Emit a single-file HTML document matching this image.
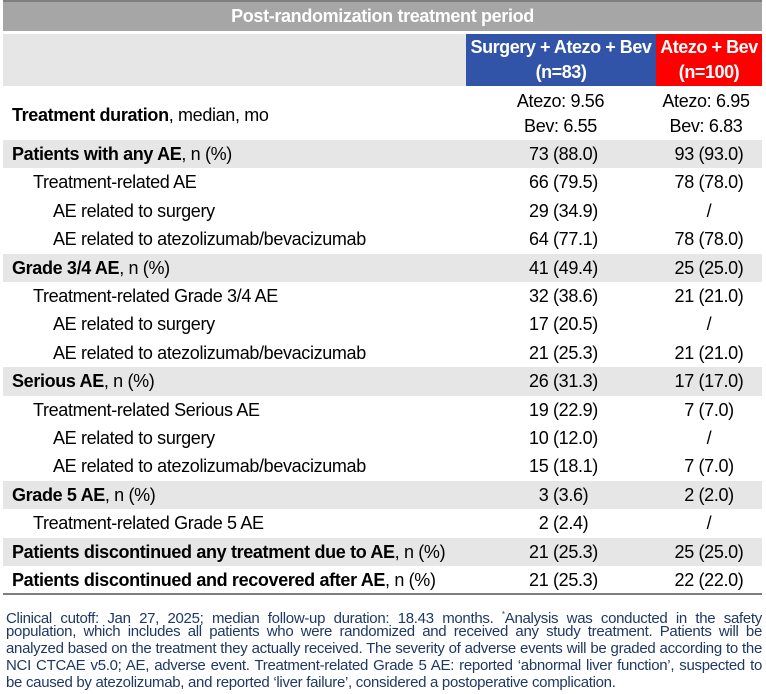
<!DOCTYPE html>
<html><head><meta charset="utf-8"><style>
*{margin:0;padding:0;box-sizing:border-box}
body{width:766px;height:694px;background:#fff;position:relative;overflow:hidden;font-family:"Liberation Sans",Arial,sans-serif;color:#000;font-size:18px;letter-spacing:-0.35px}
.a{position:absolute}
.row{position:absolute;left:3px;width:759px;height:28.4px}
.g{background:#e6e6e6}
.t{position:absolute;top:0;line-height:28.4px;white-space:nowrap}
.c1{position:absolute;left:463px;width:195px;text-align:center;top:0;line-height:28.4px}
.c2{position:absolute;left:653px;width:106px;text-align:center;top:0;line-height:28.4px}
b{font-weight:bold}
.fn{position:absolute;left:6px;width:756px;color:#1f3864;font-size:15px;line-height:17px;letter-spacing:-0.3px;white-space:nowrap;text-align:justify;text-align-last:justify}
</style></head><body>
<div class="a" style="left:3px;top:0;width:759px;height:2px;background:#7f7f7f"></div>
<div class="a" style="left:3px;top:2px;width:759px;height:29px;background:#a6a6a6;color:#fff;font-weight:bold;text-align:center;line-height:29px">Post-randomization treatment period</div>
<div class="a" style="left:3px;top:34px;width:463px;height:52px;background:#e6e6e6"></div>
<div class="a" style="left:466px;top:34px;width:190px;height:52px;background:#3153a8;color:#fff;font-weight:bold;text-align:center;line-height:25px;padding-top:1px;letter-spacing:-0.45px">Surgery + Atezo + Bev<br>(n=83)</div>
<div class="a" style="left:656px;top:34px;width:106px;height:52px;background:#ff0000;color:#fff;font-weight:bold;text-align:center;line-height:25px;padding-top:1px;letter-spacing:-0.45px">Atezo + Bev<br>(n=100)</div>

<div class="a" style="left:12px;top:101px;line-height:28px"><b>Treatment duration</b>, median, mo</div>
<div class="a" style="left:463px;width:195px;top:89px;text-align:center;line-height:25px">Atezo: 9.56<br>Bev: 6.55</div>
<div class="a" style="left:653px;width:106px;top:89px;text-align:center;line-height:25px">Atezo: 6.95<br>Bev: 6.83</div>

<div class="row g" style="top:140px"><div class="t" style="left:9px"><b>Patients with any AE</b>, n (%)</div><div class="c1">73 (88.0)</div><div class="c2">93 (93.0)</div></div>
<div class="row" style="top:168.4px"><div class="t" style="left:30px">Treatment-related AE</div><div class="c1">66 (79.5)</div><div class="c2">78 (78.0)</div></div>
<div class="row" style="top:196.8px"><div class="t" style="left:50px">AE related to surgery</div><div class="c1">29 (34.9)</div><div class="c2">/</div></div>
<div class="row" style="top:225.2px"><div class="t" style="left:50px">AE related to atezolizumab/bevacizumab</div><div class="c1">64 (77.1)</div><div class="c2">78 (78.0)</div></div>
<div class="row g" style="top:253.6px"><div class="t" style="left:9px"><b>Grade 3/4 AE</b>, n (%)</div><div class="c1">41 (49.4)</div><div class="c2">25 (25.0)</div></div>
<div class="row" style="top:282px"><div class="t" style="left:30px">Treatment-related Grade 3/4 AE</div><div class="c1">32 (38.6)</div><div class="c2">21 (21.0)</div></div>
<div class="row" style="top:310.4px"><div class="t" style="left:50px">AE related to surgery</div><div class="c1">17 (20.5)</div><div class="c2">/</div></div>
<div class="row" style="top:338.8px"><div class="t" style="left:50px">AE related to atezolizumab/bevacizumab</div><div class="c1">21 (25.3)</div><div class="c2">21 (21.0)</div></div>
<div class="row g" style="top:367.2px"><div class="t" style="left:9px"><b>Serious AE</b>, n (%)</div><div class="c1">26 (31.3)</div><div class="c2">17 (17.0)</div></div>
<div class="row" style="top:395.6px"><div class="t" style="left:30px">Treatment-related Serious AE</div><div class="c1">19 (22.9)</div><div class="c2">7 (7.0)</div></div>
<div class="row" style="top:424px"><div class="t" style="left:50px">AE related to surgery</div><div class="c1">10 (12.0)</div><div class="c2">/</div></div>
<div class="row" style="top:452.4px"><div class="t" style="left:50px">AE related to atezolizumab/bevacizumab</div><div class="c1">15 (18.1)</div><div class="c2">7 (7.0)</div></div>
<div class="row g" style="top:480.8px"><div class="t" style="left:9px"><b>Grade 5 AE</b>, n (%)</div><div class="c1">3 (3.6)</div><div class="c2">2 (2.0)</div></div>
<div class="row" style="top:509.2px"><div class="t" style="left:30px">Treatment-related Grade 5 AE</div><div class="c1">2 (2.4)</div><div class="c2">/</div></div>
<div class="row g" style="top:537.6px"><div class="t" style="left:9px"><b>Patients discontinued any treatment due to AE</b>, n (%)</div><div class="c1">21 (25.3)</div><div class="c2">25 (25.0)</div></div>
<div class="row" style="top:566px"><div class="t" style="left:9px"><b>Patients discontinued and recovered after AE</b>, n (%)</div><div class="c1">21 (25.3)</div><div class="c2">22 (22.0)</div></div>
<div class="a" style="left:3px;top:593px;width:759px;height:2px;background:#7f7f7f"></div>

<div class="fn" style="top:606px">Clinical cutoff: Jan 27, 2025; median follow-up duration: 18.43 months. <sup style="font-size:8px">*</sup>Analysis was conducted in the safety</div>
<div class="fn" style="top:623px">population, which includes all patients who were randomized and received any study treatment. Patients will be</div>
<div class="fn" style="top:640px">analyzed based on the treatment they actually received. The severity of adverse events will be graded according to the</div>
<div class="fn" style="top:657px">NCI CTCAE v5.0; AE, adverse event. Treatment-related Grade 5 AE: reported ‘abnormal liver function’, suspected to</div>
<div class="fn" style="top:674px;text-align-last:left">be caused by atezolizumab, and reported ‘liver failure’, considered a postoperative complication.</div>
</body></html>
